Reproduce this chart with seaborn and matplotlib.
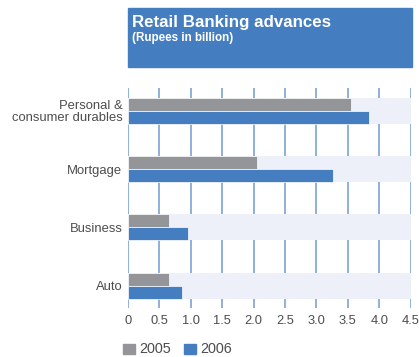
import matplotlib
matplotlib.use("Agg")
import matplotlib.pyplot as plt
from matplotlib.patches import Rectangle
import seaborn as sns
import pandas as pd

categories = ["Personal &\nconsumer durables", "Mortgage", "Business", "Auto"]
years = ["2005", "2006"]
values_2005 = [3.55, 2.05, 0.65, 0.65]
values_2006 = [3.83, 3.27, 0.95, 0.86]
x_ticks = [0, 0.5, 1.0, 1.5, 2.0, 2.5, 3.0, 3.5, 4.0, 4.5]
x_tick_labels = ["0", "0.5", "1.0", "1.5", "2.0", "2.5", "3.0", "3.5", "4.0", "4.5"]
x_max = 4.5

GREY = "#939598"
BLUE = "#457EC0"
BAND = "#EDF0F9"
GRID = "#6F9BD3"
TEXT = "#4D4D4D"

df = pd.DataFrame({
    "category": categories * 2,
    "year": [years[0]] * len(categories) + [years[1]] * len(categories),
    "value": values_2005 + values_2006,
})

sns.set_theme(style="white")
plt.rcParams["font.family"] = ["Liberation Sans", "DejaVu Sans"]

fig = plt.figure(figsize=(4.19, 3.57), dpi=100)
ax = fig.add_axes([0.3055, 0.1373, 0.6755, 0.6162])

band_h = 0.446

# light full-width bands behind each pair of bars
ax.barh(range(len(categories)), [x_max] * len(categories), height=band_h,
        color=BAND, zorder=1, linewidth=0)

sns.barplot(data=df, y="category", x="value", hue="year", orient="h",
            palette=[GREY, BLUE], saturation=1, width=band_h, gap=0, ax=ax,
            edgecolor="white", linewidth=0.5, legend=False, zorder=2)

for t in x_ticks:
    ax.axvline(t, color=GRID, lw=1.1, zorder=0.5)

ax.set_xlim(0, x_max + 0.005)
ax.set_ylim(3.38, -0.39)
ax.set_xticks(x_ticks)
ax.set_xticklabels(x_tick_labels)
ax.set_xlabel("")
ax.set_ylabel("")
ax.tick_params(axis="x", length=0, pad=5, labelsize=9.3, labelcolor=TEXT)
ax.tick_params(axis="y", length=0, pad=4, labelsize=9.4, labelcolor=TEXT)
for lbl in ax.get_yticklabels():
    lbl.set_linespacing(0.95)
for s in ax.spines.values():
    s.set_visible(False)
ax.set_facecolor("none")

# title banner
fig.patches.append(Rectangle((128 / 419, 1 - 67 / 357), (412 - 128) / 419, (67 - 8) / 357,
                             transform=fig.transFigure, color=BLUE, zorder=0))
fig.text(132 / 419, 1 - 22 / 357, "Retail Banking advances", color="white",
         fontsize=12.2, fontweight="bold", va="center", ha="left")
fig.text(132 / 419, 1 - 38.5 / 357, "(Rupees in billion)", color="white",
         fontsize=8.4, fontweight="bold", va="center", ha="left")

# legend
for x0, col, lab in [(123, GREY, years[0]), (184, BLUE, years[1])]:
    fig.patches.append(Rectangle((x0 / 419, 1 - 354 / 357), 12 / 419, 10 / 357,
                                 transform=fig.transFigure, color=col))
    fig.text((x0 + 16) / 419, 1 - 349 / 357, lab, color=TEXT, fontsize=10.4,
             va="center", ha="left")

fig.savefig("out.png", dpi=100)
